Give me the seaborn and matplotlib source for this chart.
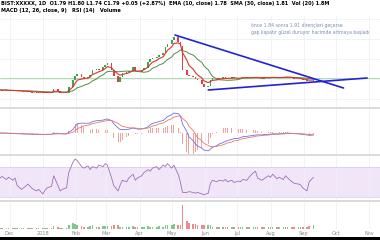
import numpy as np
import pandas as pd
import matplotlib
matplotlib.use("Agg")
import matplotlib.pyplot as plt
import matplotlib.dates as mdates
from matplotlib.lines import Line2D
from matplotlib.patches import Rectangle
import seaborn as sns

# ---------------- data ----------------
closes = [1.53, 1.51, 1.53, 1.50, 1.51, 1.50, 1.50, 1.49, 1.48, 1.49,
          1.48, 1.46, 1.48, 1.46, 1.45, 1.46, 1.48, 1.45, 1.55, 1.49,
          1.45, 1.45, 1.46, 1.60, 1.78, 1.88, 1.93, 1.85, 1.83, 1.85,
          1.90, 2.03, 2.05, 2.03, 2.10, 2.15, 2.20, 2.03, 1.88, 1.73,
          1.85, 1.95, 1.98, 2.00, 2.10, 2.00, 1.98, 2.03, 2.08, 2.23,
          2.30, 2.33, 2.35, 2.40, 2.45, 2.60, 2.68, 2.78, 2.85, 2.73,
          2.63, 2.03, 1.90, 1.88, 1.85, 1.80, 1.78, 1.68, 1.60, 1.63,
          1.78, 1.83, 1.80, 1.83, 1.84, 1.83, 1.81, 1.85, 1.83, 1.80,
          1.83, 1.85, 1.83, 1.83, 1.84, 1.85, 1.83, 1.81, 1.85, 1.83,
          1.84, 1.85, 1.83, 1.83, 1.85, 1.86, 1.85, 1.83, 1.80, 1.81,
          1.80, 1.78, 1.75, 1.74, 1.79]
first_open = 1.52

volumes = [0.4, 0.5, 0.3, 0.4, 0.5, 0.3, 0.4, 0.3, 0.5, 0.4,
           0.3, 0.4, 0.5, 0.3, 0.4, 0.5, 0.4, 0.3, 1.5, 0.8,
           0.5, 0.4, 0.5, 2.0, 3.0, 2.5, 2.0, 1.5, 1.2, 1.0,
           1.5, 1.8, 1.2, 1.0, 1.5, 1.3, 1.6, 1.5, 1.8, 2.0,
           1.2, 1.0, 0.9, 1.0, 1.4, 0.9, 0.8, 0.9, 1.0, 1.5,
           1.2, 1.0, 1.1, 1.3, 1.2, 2.0, 1.8, 2.2, 2.5, 1.8,
           2.0, 12.0, 4.0, 3.0, 2.5, 2.5, 2.2, 2.0, 2.2, 1.8,
           2.0, 1.0, 0.8, 1.1, 0.9, 1.0, 0.8, 1.2, 0.9, 1.0,
           0.8, 1.1, 0.9, 1.0, 1.2, 1.1, 0.9, 1.0, 0.8, 1.0,
           1.1, 0.9, 1.0, 0.8, 1.0, 1.2, 0.9, 1.0, 1.1, 0.9,
           1.0, 1.0, 1.2, 1.4, 1.8]

rsi_values = [55, 57, 53, 56, 52, 55, 45, 40, 42, 47,
              44, 41, 38, 40, 34, 39, 42, 44, 58, 45,
              38, 40, 42, 62, 76, 80, 78, 70, 68, 71,
              66, 70, 68, 72, 70, 74, 72, 55, 45, 38,
              46, 52, 50, 55, 60, 52, 55, 58, 62, 66,
              64, 68, 70, 66, 72, 70, 74, 68, 72, 60,
              50, 36, 36, 37, 36, 35, 36, 34, 33, 35,
              48, 52, 50, 52, 51, 53, 50, 52, 49, 51,
              50, 53, 52, 56, 62, 64, 55, 52, 54, 58,
              56, 60, 54, 56, 53, 58, 55, 50, 48, 47,
              46, 42, 38, 50, 56]

support_level = 1.82
trend_dates = [["2018-05-04", "2018-10-08"], ["2018-06-04", "2018-10-30"]]
trend_prices = [[2.90, 1.575], [1.525, 1.825]]

month_starts = ["2017-12-01", "2018-01-01", "2018-02-01", "2018-03-01",
                "2018-04-01", "2018-05-01", "2018-06-01", "2018-07-01",
                "2018-08-01", "2018-09-01", "2018-10-01", "2018-11-01"]
month_labels = ["Dec", "2018", "Feb", "Mar", "Apr", "May", "Jun", "Jul",
                "Aug", "Sep", "Oct", "Nov"]

note_lines = ["önce 1.84 sonra 1.91 dirençleri geçerse",
              "gap kapatır güzel duruyor hacimde artmaya başladı"]
header_1 = "BIST:XXXXX, 1D  O1.79 H1.80 L1.74 C1.79 +0.05 (+2.87%)  EMA (10, close) 1.78  SMA (30, close) 1.81  Vol (20) 1.8M"
header_2 = "MACD (12, 26, close, 9)   RSI (14)   Volume"

# ---------------- derived frames ----------------
dates = pd.bdate_range("2017-11-22", periods=len(closes), freq="2B")
x = mdates.date2num(dates)
c = pd.Series(closes, dtype=float)
o = pd.Series([first_open] + closes[:-1], dtype=float)
ema_fast = c.ewm(span=5, adjust=False).mean()
sma_slow = c.rolling(12, min_periods=1).mean()
macd = c.ewm(span=8, adjust=False).mean() - c.ewm(span=17, adjust=False).mean()
signal = macd.ewm(span=6, adjust=False).mean()
hist = macd - signal
df = pd.DataFrame({"x": x, "open": o, "close": c, "ema": ema_fast,
                   "sma": sma_slow, "macd": macd, "signal": signal,
                   "hist": hist, "rsi": rsi_values, "vol": volumes})

sns.set_theme(style="white")
plt.rcParams["font.family"] = ["DejaVu Sans"]

W, H = 380, 240
fig = plt.figure(figsize=(W / 100, H / 100), dpi=100)
fig.patch.set_facecolor("white")

def panel(top_px, bot_px):
    ax = fig.add_axes([0, (H - bot_px) / H, 1, (bot_px - top_px) / H])
    ax.set_facecolor("white")
    for s in ax.spines.values():
        s.set_visible(False)
    return ax

mx = mdates.date2num(pd.to_datetime(month_starts))
xlim = (mdates.date2num(pd.Timestamp("2017-11-22")),
        mdates.date2num(pd.Timestamp("2018-11-11")))

ax_p = panel(15, 107)
ax_m = panel(109, 154)
ax_r = panel(156, 200)
ax_v = panel(202, 229)

for ax in (ax_p, ax_m, ax_r, ax_v):
    ax.set_xlim(*xlim)
    ax.set_xticks(mx)
    ax.grid(True, axis="x", color="#eef0f4", lw=0.6)
    ax.tick_params(length=0, labelbottom=False, labelleft=False)

# ---- price panel ----
ax_p.set_ylim(1.10, 3.40)
ax_p.set_yticks([1.3, 1.8, 2.3, 2.8, 3.3])
ax_p.grid(True, axis="y", color="#eef0f4", lw=0.6)
up = df["close"] >= df["open"]
cols = np.where(up, "#3aa64a", "#d9434a")
body_lo = np.minimum(df["open"], df["close"])
body_h = np.maximum(np.abs(df["close"] - df["open"]), 0.006)
ax_p.bar(df["x"], body_h, bottom=body_lo, width=1.5, color=cols, lw=0, zorder=3)
ax_p.axhline(support_level, color="#9fd69f", lw=0.6, zorder=1)
sns.lineplot(data=df, x="x", y="sma", ax=ax_p, color="#4f8f3f", lw=0.7, zorder=4)
sns.lineplot(data=df, x="x", y="ema", ax=ax_p, color="#e0302c", lw=0.8, zorder=5)
for td, tp in zip(trend_dates, trend_prices):
    ax_p.plot(mdates.date2num(pd.to_datetime(td)), tp, color="#2323d6", lw=1.2, zorder=6)
ax_p.text(mdates.date2num(pd.Timestamp("2018-07-14")), 3.05,
          "\n".join(note_lines), fontsize=3.3, color="#7d8fae",
          va="center", ha="left", linespacing=1.35)
ax_p.set_xlabel(""); ax_p.set_ylabel("")

# ---- MACD panel ----
zf = 0.467
s = max(-df["macd"].min() / 0.445, df["macd"].max() / 0.443)
ax_m.set_ylim(-zf * s, (1 - zf) * s)
ax_m.bar(df["x"], df["hist"] * 2.0, width=0.8, color="#f3a0a0", lw=0, zorder=2)
sns.lineplot(data=df, x="x", y="macd", ax=ax_m, color="#6a74e0", lw=0.6, zorder=3)
sns.lineplot(data=df, x="x", y="signal", ax=ax_m, color="#e97a6a", lw=0.6, zorder=3)
ax_m.set_xlabel(""); ax_m.set_ylabel("")

# ---- RSI panel ----
ax_r.set_ylim(26, 84)
ax_r.axhspan(30, 70, color="#f1e6f8", lw=0, zorder=0)
ax_r.axhline(30, color="#d8c8e6", lw=0.5)
ax_r.axhline(70, color="#d8c8e6", lw=0.5)
sns.lineplot(data=df, x="x", y="rsi", ax=ax_r, color="#a070b8", lw=0.6, zorder=3)
ax_r.set_xlabel(""); ax_r.set_ylabel("")

# ---- Volume panel ----
ax_v.set_ylim(0, 13.5)
vcols = np.where(up, "#7cc98a", "#ef8a8a")
ax_v.bar(df["x"], df["vol"], width=1.5, color=vcols, lw=0, zorder=3)
ax_v.set_xticks(mx)
ax_v.set_xticklabels(month_labels, fontsize=3.6, color="#8a8a8a")
ax_v.tick_params(labelbottom=True, pad=1.2)
ax_v.set_xlabel(""); ax_v.set_ylabel("")

# separators
for ypx in (108, 155, 201):
    fig.add_artist(Line2D([0, 1], [(H - ypx) / H] * 2, color="#d4d4d4", lw=1.2))

# header text
fig.text(0.003, 1 - 3.5 / H, header_1, fontsize=3.6, color="black", va="center", ha="left", fontweight="bold")
fig.text(0.003, 1 - 10.5 / H, header_2, fontsize=3.6, color="black", va="center", ha="left", fontweight="bold")

# bottom black strip
fig.add_artist(Rectangle((0, 0), 1, 3.5 / H, transform=fig.transFigure, color="black", lw=0))

fig.savefig("out.png", dpi=100, facecolor="white")
